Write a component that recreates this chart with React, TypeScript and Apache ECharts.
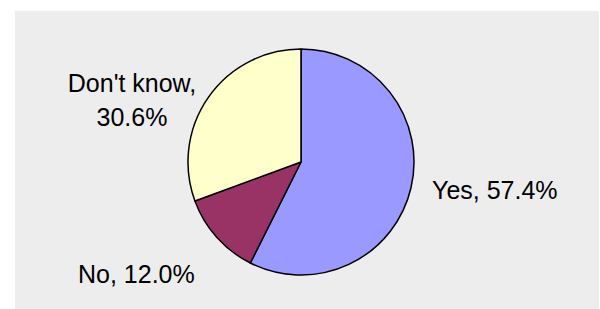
import React, { useEffect, useRef } from "react";
import * as echarts from "echarts";

const categories = ["Yes", "No", "Don't know"];
const values = [57.4, 12.0, 30.6];
const colors = ["#9999FF", "#993366", "#FFFFCC"];

export default function App() {
  const ref = useRef<HTMLDivElement>(null);
  useEffect(() => {
    if (!ref.current) return;
    const chart = echarts.init(ref.current, null, { renderer: "svg" });
    const labelPos: Record<number, any> = {
      0: { x: 432, y: 190, align: "left", verticalAlign: "middle" },
      1: { x: 78, y: 274, align: "left", verticalAlign: "middle" },
      2: { x: 132, y: 100, align: "center", verticalAlign: "middle" },
    };
    chart.setOption({
      animation: false,
      backgroundColor: "#ffffff",
      graphic: [
        {
          type: "rect",
          z: -10,
          silent: true,
          shape: { x: 15, y: 11, width: 584, height: 298 },
          style: { fill: "#EDEDED" },
        },
      ],
      series: [
        {
          type: "pie",
          center: [301, 162],
          radius: [0, 113],
          startAngle: 90,
          clockwise: true,
          data: categories.map((c, i) => ({
            name: c,
            value: values[i],
            itemStyle: { color: colors[i] },
          })),
          itemStyle: { borderColor: "#000", borderWidth: 1.5 },
          emphasis: { disabled: true },
          labelLine: { show: false },
          label: {
            show: true,
            position: "outside",
            color: "#000",
            fontFamily: "Liberation Sans, Arial, sans-serif",
            fontSize: 25,
            lineHeight: 34,
            formatter: (p: any) =>
              p.dataIndex === 2
                ? `${p.name},\n${p.value.toFixed(1)}%`
                : `${p.name}, ${p.value.toFixed(1)}%`,
          },
          labelLayout: (params: any) => labelPos[params.dataIndex],
        },
      ],
    });
    return () => chart.dispose();
  }, []);
  return (
    <div
      ref={ref}
      style={{ position: "fixed", left: 0, top: 0, width: 600, height: 309 }}
    />
  );
}
